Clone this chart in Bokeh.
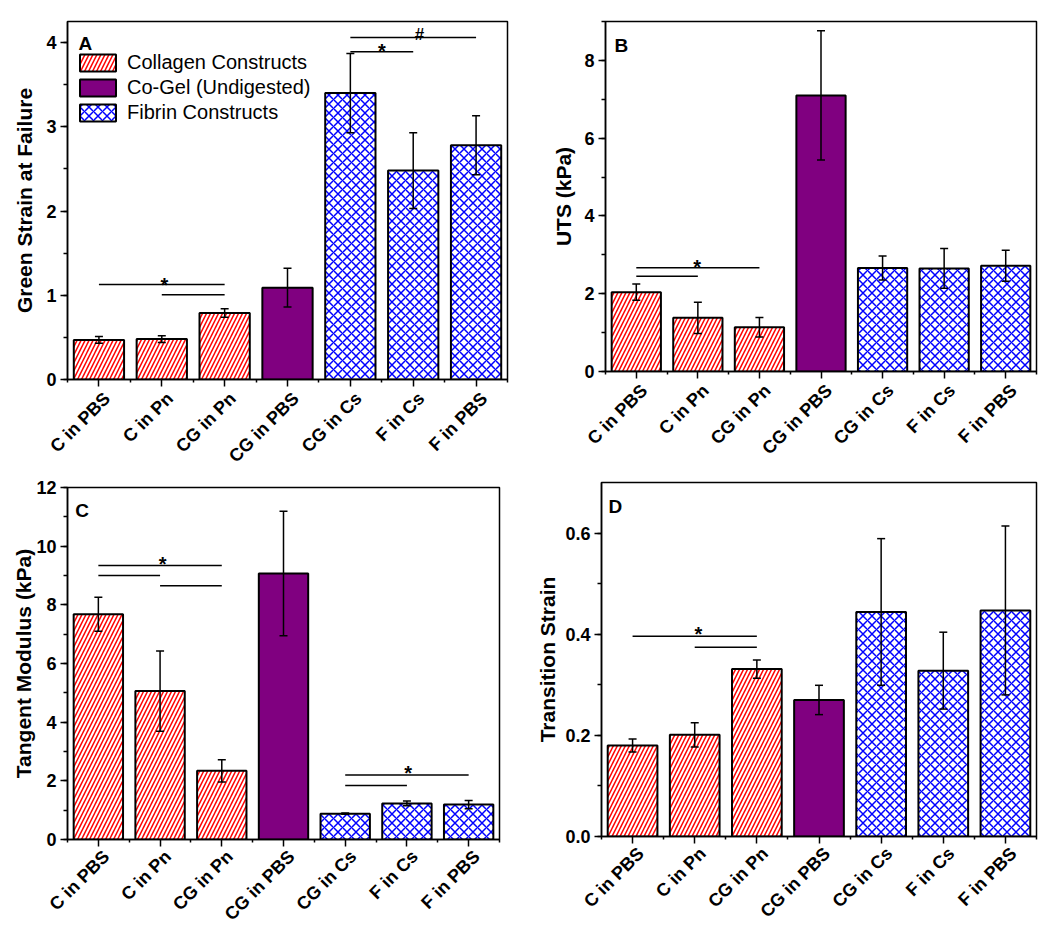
import math
from bokeh.plotting import figure
from bokeh.models import (ColumnDataSource, Whisker, TeeHead, FixedTicker,
                          SingleIntervalTicker, PrintfTickFormatter, Range1d,
                          Legend, LegendItem, Label, LinearAxis)
from bokeh.layouts import row, column
from bokeh.embed import file_html
from bokeh.resources import INLINE

# ---------------- data ----------------
categories = ["C in PBS", "C in Pn", "CG in Pn", "CG in PBS", "CG in Cs", "F in Cs", "F in PBS"]
groups = ["Collagen Constructs", "Collagen Constructs", "Collagen Constructs",
          "Co-Gel (Undigested)",
          "Fibrin Constructs", "Fibrin Constructs", "Fibrin Constructs"]

strain_failure = [0.47, 0.48, 0.79, 1.09, 3.40, 2.48, 2.78]
strain_failure_err = [0.04, 0.04, 0.05, 0.23, 0.47, 0.45, 0.35]

uts = [2.04, 1.38, 1.14, 7.10, 2.66, 2.65, 2.72]
uts_err = [0.21, 0.40, 0.25, 1.66, 0.31, 0.51, 0.40]

tangent_modulus = [7.68, 5.06, 2.34, 9.07, 0.88, 1.23, 1.19]
tangent_modulus_err = [0.58, 1.37, 0.38, 2.12, 0.02, 0.08, 0.14]

transition_strain = [0.180, 0.201, 0.331, 0.270, 0.444, 0.328, 0.447]
transition_strain_err = [0.013, 0.024, 0.018, 0.029, 0.145, 0.076, 0.167]

# significance brackets: (from index, to index, height)
brackets_a = [(0, 2, 1.127), (1, 2, 1.005), (4, 5, 3.89), (4, 6, 4.06)]
marks_a = [("*", 1.04, 1.123, "20px"), ("*", 4.5, 3.90, "20px"), ("#", 5.1, 4.10, "17px")]
brackets_b = [(0, 2, 2.67), (0, 1, 2.45)]
marks_b = [("*", 0.99, 2.70, "20px")]
brackets_c = [(0, 2, 9.34), (0, 1, 9.0), (1, 2, 8.65), (4, 6, 2.2), (4, 5, 1.84)]
marks_c = [("*", 1.04, 9.40, "20px"), ("*", 5.02, 2.26, "20px")]
brackets_d = [(0, 2, 0.396), (1, 2, 0.374)]
marks_d = [("*", 1.06, 0.401, "20px")]

FONT = "Liberation Sans"
LABEL_SHIFT = 0.13   # rotated category labels sit slightly right of their tick

STYLE = {
    "Collagen Constructs": dict(fill_color="white", hatch_pattern="/", hatch_color="#ff0000",
                                hatch_scale=8, hatch_weight=1.5),
    "Co-Gel (Undigested)": dict(fill_color="#800080"),
    "Fibrin Constructs": dict(fill_color="white", hatch_pattern="x", hatch_color="#0000ff",
                              hatch_scale=9, hatch_weight=1.5),
}


def make_panel(letter, letter_pos, vals, errs, ylabel, y_end, interval, fmt,
               brackets, marks, geom, title_standoff, xlab_standoff, legend=False):
    w, h, bl, br, bt, bb = geom
    p = figure(width=w, height=h, x_range=Range1d(-0.5, 6.5), y_range=Range1d(0, y_end),
               output_backend="svg", toolbar_location=None,
               min_border_left=bl, min_border_right=br, min_border_top=bt, min_border_bottom=bb)
    p.xgrid.visible = False
    p.ygrid.visible = False
    p.outline_line_color = "black"
    p.outline_line_width = 1.5
    p.outline_line_alpha = 1.0
    p.background_fill_color = "white"
    p.border_fill_color = "white"

    idx = list(range(len(categories)))
    renderers = {}
    for g in ["Collagen Constructs", "Co-Gel (Undigested)", "Fibrin Constructs"]:
        xs = [i for i in idx if groups[i] == g]
        src = ColumnDataSource(dict(x=xs, top=[vals[i] for i in xs]))
        r = p.vbar(x="x", top="top", width=0.8, source=src, line_color="black",
                   line_width=2, **STYLE[g])
        renderers[g] = r

    esrc = ColumnDataSource(dict(x=idx, upper=[v + e for v, e in zip(vals, errs)],
                                 lower=[v - e for v, e in zip(vals, errs)]))
    wh = Whisker(source=esrc, base="x", upper="upper", lower="lower",
                 line_color="black", line_width=1.5, level="annotation",
                 upper_head=TeeHead(size=8, line_width=1.5, line_color="black"),
                 lower_head=TeeHead(size=8, line_width=1.5, line_color="black"))
    p.add_layout(wh)

    bsrc = ColumnDataSource(dict(x0=[b[0] for b in brackets], x1=[b[1] for b in brackets],
                                 y=[b[2] for b in brackets]))
    p.segment(x0="x0", y0="y", x1="x1", y1="y", source=bsrc, line_color="black", line_width=1.5)

    for txt, mx, my, fs in marks:
        p.add_layout(Label(x=mx, y=my, text=txt, text_font=FONT, text_font_style="bold",
                           text_font_size=fs, text_align="center", text_baseline="alphabetic",
                           text_color="black"))

    p.add_layout(Label(x=letter_pos[0], y=letter_pos[1], text=letter, text_font=FONT,
                       text_font_style="bold", text_font_size="19px", text_align="left",
                       text_baseline="alphabetic", text_color="black"))

    # x axis: tick marks only
    xa = p.xaxis[0]
    xa.ticker = FixedTicker(ticks=idx, minor_ticks=[i - 0.5 for i in range(len(categories) + 1)])
    xa.major_label_overrides = {i: "" for i in idx}
    xa.major_label_text_font_size = "0px"
    xa.major_label_standoff = 0
    xa.axis_line_width = 1.5
    xa.axis_line_color = "black"
    xa.major_tick_line_width = 1.5
    xa.minor_tick_line_width = 1.5
    xa.major_tick_line_color = "black"
    xa.minor_tick_line_color = "black"
    xa.major_tick_in = 0
    xa.minor_tick_in = 0
    xa.major_tick_out = 7
    xa.minor_tick_out = 3

    # second bottom axis carrying the rotated category names
    lab_ticks = [i + LABEL_SHIFT for i in idx]
    la = LinearAxis(ticker=FixedTicker(ticks=lab_ticks, minor_ticks=[]),
                    major_label_overrides={t: c for t, c in zip(lab_ticks, categories)},
                    major_label_orientation=math.pi / 4,
                    major_label_standoff=xlab_standoff,
                    axis_line_color=None, major_tick_line_color=None,
                    minor_tick_line_color=None, major_tick_out=0, major_tick_in=0,
                    minor_tick_out=0, minor_tick_in=0,
                    major_label_text_font=FONT, major_label_text_font_style="bold",
                    major_label_text_font_size="18px", major_label_text_color="black")
    p.add_layout(la, "below")

    # y axis
    ya = p.yaxis[0]
    ya.ticker = SingleIntervalTicker(interval=interval, num_minor_ticks=2)
    if fmt:
        ya.formatter = PrintfTickFormatter(format=fmt)
    ya.axis_label = ylabel
    ya.axis_label_standoff = title_standoff
    ya.axis_label_text_font = FONT
    ya.axis_label_text_font_style = "bold"
    ya.axis_label_text_font_size = "21px"
    ya.axis_label_text_color = "black"
    ya.axis_line_width = 1.5
    ya.axis_line_color = "black"
    ya.major_tick_line_width = 1.5
    ya.minor_tick_line_width = 1.5
    ya.major_tick_line_color = "black"
    ya.minor_tick_line_color = "black"
    ya.major_tick_in = 0
    ya.minor_tick_in = 0
    ya.major_tick_out = 7
    ya.minor_tick_out = 4
    ya.major_label_text_font = FONT
    ya.major_label_text_font_style = "bold"
    ya.major_label_text_font_size = "18px"
    ya.major_label_text_color = "black"
    ya.major_label_standoff = 4

    if legend:
        items = [LegendItem(label=g, renderers=[renderers[g]])
                 for g in ["Collagen Constructs", "Co-Gel (Undigested)", "Fibrin Constructs"]]
        lg = Legend(items=items, location=(8, 255), padding=0, margin=0, spacing=2,
                    glyph_width=45, glyph_height=21, label_height=21, label_standoff=7,
                    label_text_font=FONT, label_text_font_size="20px",
                    label_text_color="black", border_line_color=None,
                    background_fill_alpha=0)
        p.add_layout(lg)
    return p


pA = make_panel("A", (-0.325, 3.986), strain_failure, strain_failure_err,
                "Green Strain at Failure", 4.25, 1, None, brackets_a, marks_a,
                (525, 476, 67, 18, 21, 97), 7, 9, legend=True)
pB = make_panel("B", (-0.354, 8.38), uts, uts_err, "UTS (kPa)", 9.0, 2, None,
                brackets_b, marks_b, (520, 476, 80, 9, 21, 105), 6, 9)
pC = make_panel("C", (-0.373, 11.23), tangent_modulus, tangent_modulus_err,
                "Tangent Modulus (kPa)", 12, 2, None, brackets_c, marks_c,
                (525, 459, 67, 26, 11, 96), -2, 7)
pD = make_panel("D", (-0.387, 0.653), transition_strain, transition_strain_err,
                "Transition Strain", 0.7, 0.2, "%.1f", brackets_d, marks_d,
                (520, 459, 76, 9, 6, 99), 3, 7)

layout = column(row(column(pA), column(pB)), row(column(pC), column(pD)))
open("out.html", "w").write(file_html(layout, INLINE))
